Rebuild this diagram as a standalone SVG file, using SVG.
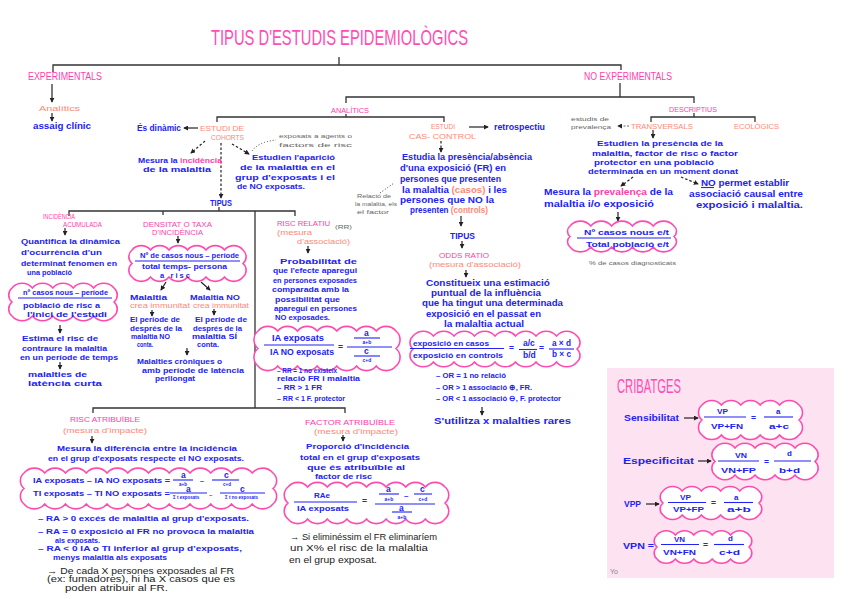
<svg xmlns="http://www.w3.org/2000/svg" width="848" height="599" viewBox="0 0 848 599">
<style>
text{font-family:"Liberation Sans",Arial,sans-serif;}
.b{fill:#2222f8;font-size:8.5px;font-weight:bold;}
.b8{fill:#2222f8;font-size:8px;font-weight:bold;}
.b7{fill:#2222f8;font-size:7.5px;font-weight:bold;}
.b6{fill:#2222f8;font-size:7px;font-weight:bold;}
.bf{fill:#2222f8;font-size:8px;font-weight:bold;}
.p{fill:#ff3ea9;font-size:7.5px;}
.s{fill:#ff8878;font-size:8px;}
.k{fill:#222;font-size:9px;}
.g{fill:#666;font-size:6px;}
.ln{stroke:#333;stroke-width:1.3;fill:none;}
.ar{stroke:#222;stroke-width:1.2;fill:none;marker-end:url(#ah);}
.da{stroke:#222;stroke-width:1.2;fill:none;stroke-dasharray:2.5 2;marker-end:url(#ah);}
.dt{stroke:#444;stroke-width:1;fill:none;stroke-dasharray:1 2;}
.cl{fill:#fff;stroke:#ff4bb0;stroke-width:1.6;}
.fr{stroke:#2222f8;stroke-width:1.1;}
</style>
<defs>
<marker id="ah" viewBox="0 0 6 6" refX="5" refY="3" markerWidth="5" markerHeight="5" markerUnits="userSpaceOnUse" orient="auto"><path d="M0,0 L6,3 L0,6 z" fill="#222"/></marker>
</defs>
<rect x="0" y="0" width="848" height="599" fill="#fff"/>
<rect x="607" y="368" width="227" height="210" fill="#fde3f1"/>

<g id="connectors">
<path class="ln" d="M339,57 V65 M53,72 V65 H621 V70"/>
<line class="ar" x1="52" y1="84" x2="52" y2="102"/>
<line class="ar" x1="52" y1="113" x2="52" y2="121"/>
<path class="ln" d="M620,83 V97 M346,103 V97 H694 V103"/>
<path class="ln" d="M346,114 V117 M217,122 V117 H444 V122"/>
<path class="ln" d="M694,113 V117 M651,122 V117 H755 V122"/>
<line class="ar" x1="198" y1="128" x2="184" y2="128"/>
<line class="da" x1="205" y1="141" x2="191" y2="153"/>
<line class="da" x1="232" y1="144" x2="249" y2="154"/>
<path class="dt" d="M252,151 Q258,142 276,140"/>
<line class="da" x1="221" y1="143" x2="221" y2="198"/>
<path class="ln" d="M219,207 V211 M69,216 V211 H295 V216 M163,211 V215 M255,211 V408 M93,413 V408 H345 V413"/>
<line class="ar" x1="65" y1="228" x2="65" y2="235"/>
<line class="ar" x1="60" y1="325" x2="60" y2="333"/>
<line class="ar" x1="60" y1="362" x2="60" y2="369"/>
<line class="ar" x1="178" y1="236" x2="178" y2="243"/>
<line class="ar" x1="166" y1="282" x2="161" y2="290"/>
<line class="ar" x1="201" y1="282" x2="210" y2="290"/>
<line class="ar" x1="152" y1="310" x2="152" y2="316"/>
<line class="ar" x1="214" y1="309" x2="214" y2="315"/>
<line class="ar" x1="187" y1="348" x2="187" y2="355"/>
<line class="ar" x1="308" y1="246" x2="308" y2="253"/>
<line class="ar" x1="92" y1="436" x2="92" y2="443"/>
<line class="ar" x1="343" y1="435" x2="343" y2="441"/>
<line class="ar" x1="469" y1="127" x2="488" y2="127"/>
<line class="da" x1="441" y1="141" x2="441" y2="152"/>
<path class="dt" d="M380,193 L394,183"/>
<line class="ar" x1="461" y1="216" x2="461" y2="226"/>
<line class="ar" x1="462" y1="241" x2="462" y2="248"/>
<line class="ar" x1="466" y1="270" x2="466" y2="277"/>
<line class="ar" x1="482" y1="407" x2="482" y2="415"/>
<line x1="629" y1="126" x2="618" y2="126" stroke="#666" stroke-width="1" stroke-dasharray="2 1.5" marker-end="url(#ah)"/>
<line class="ar" x1="653" y1="130" x2="653" y2="138"/>
<line class="da" x1="681" y1="177" x2="698" y2="184"/>
<line class="da" x1="633" y1="177" x2="621" y2="186"/>
<line class="ar" x1="618" y1="212" x2="618" y2="221"/>
<line class="ar" x1="684" y1="418" x2="698" y2="418"/>
<line class="ar" x1="698" y1="461" x2="711" y2="461"/>
<line class="ar" x1="646" y1="504" x2="659" y2="504"/>
</g>

<g id="title"><text x="211" y="45" font-size="22" textLength="257" lengthAdjust="spacingAndGlyphs" fill="#ff4db5">TIPUS D'ESTUDIS EPIDEMIOLÒGICS</text></g>

<g id="experimentals">
<text x="28" y="80" font-size="10" fill="#ff3ea9" textLength="74" lengthAdjust="spacingAndGlyphs">EXPERIMENTALS</text>
<text class="s" x="39" y="111" font-size="9" textLength="41" lengthAdjust="spacingAndGlyphs">Analítics</text>
<text class="b" x="33" y="129" textLength="58" lengthAdjust="spacingAndGlyphs">assaig clínic</text>
</g>

<g id="no-experimentals">
<text x="584" y="80" font-size="10" fill="#ff3ea9" textLength="88" lengthAdjust="spacingAndGlyphs">NO EXPERIMENTALS</text>
</g>

<g id="analitics"><text class="p" x="331" y="113" textLength="38" lengthAdjust="spacingAndGlyphs">ANALÍTICS</text></g>
<g id="descriptius"><text class="p" x="669" y="112" textLength="48" lengthAdjust="spacingAndGlyphs">DESCRIPTIUS</text></g>

<g id="cohorts">
<text class="s" x="200" y="131" font-size="7.5" textLength="44" lengthAdjust="spacingAndGlyphs">ESTUDI DE</text>
<text class="s" x="211" y="139.5" font-size="7.5" textLength="33" lengthAdjust="spacingAndGlyphs">COHORTS</text>
<text class="b" x="137" y="131" textLength="44" lengthAdjust="spacingAndGlyphs">És dinàmic</text>
<text class="b7" x="138" y="163" textLength="84" lengthAdjust="spacingAndGlyphs">Mesura la <tspan fill="#ff3ea9">incidència</tspan></text>
<text class="b7" x="143" y="171.5" textLength="68" lengthAdjust="spacingAndGlyphs">de la malaltia</text>
<text class="b8" x="252" y="160" textLength="83" lengthAdjust="spacingAndGlyphs">Estudien l'aparició</text>
<text class="b8" x="240" y="170" textLength="95" lengthAdjust="spacingAndGlyphs">de la malaltia en el</text>
<text class="b8" x="235" y="180" textLength="100" lengthAdjust="spacingAndGlyphs">grup d'exposats i el</text>
<text class="b8" x="237" y="189" textLength="68" lengthAdjust="spacingAndGlyphs">de NO exposats.</text>
<text class="g" x="279" y="137.5" textLength="73" lengthAdjust="spacingAndGlyphs">exposats a agents o</text>
<text class="g" x="279" y="146.5" textLength="73" lengthAdjust="spacingAndGlyphs">factors de risc</text>
<text class="b" x="210" y="206" textLength="22" lengthAdjust="spacingAndGlyphs">TIPUS</text>
</g>

<g id="incidencia-acumulada">
<text class="p" x="43" y="219" font-size="7" textLength="32" lengthAdjust="spacingAndGlyphs">INCIDÈNCIA</text>
<text class="p" x="63" y="227" font-size="7" textLength="39" lengthAdjust="spacingAndGlyphs">ACUMULADA</text>
<text class="b8" x="21" y="244" textLength="99" lengthAdjust="spacingAndGlyphs">Quantifica la dinàmica</text>
<text class="b8" x="21" y="255" textLength="81" lengthAdjust="spacingAndGlyphs">d'ocurrència d'un</text>
<text class="b8" x="21" y="266" textLength="96" lengthAdjust="spacingAndGlyphs">determinat fenomen en</text>
<text class="b8" x="27" y="275" textLength="45" lengthAdjust="spacingAndGlyphs">una població</text>
<path class="cl" d="M12,288 a13.3,13.3 0 0 1 20.4,0 13.3,13.3 0 0 1 20.4,0 13.3,13.3 0 0 1 20.4,0 13.3,13.3 0 0 1 20.4,0 13.3,13.3 0 0 1 20.4,0 a9.1,9.1 0 0 1 0,14 9.1,9.1 0 0 1 0,14 a13.3,13.3 0 0 1 -20.4,0 13.3,13.3 0 0 1 -20.4,0 13.3,13.3 0 0 1 -20.4,0 13.3,13.3 0 0 1 -20.4,0 13.3,13.3 0 0 1 -20.4,0 a9.1,9.1 0 0 1 0,-14 9.1,9.1 0 0 1 0,-14z"/>
<text class="bf" x="23" y="294.5" textLength="85" lengthAdjust="spacingAndGlyphs">nº casos nous – període</text>
<line class="fr" x1="18" y1="298" x2="112" y2="298"/>
<text class="b7" x="23" y="308" textLength="77" lengthAdjust="spacingAndGlyphs">població de risc a</text>
<text class="b7" x="27" y="316.5" textLength="80" lengthAdjust="spacingAndGlyphs">l'inici de l'estudi</text>
<text class="b8" x="22" y="341" textLength="76" lengthAdjust="spacingAndGlyphs">Estima el risc de</text>
<text class="b8" x="22" y="351" textLength="85" lengthAdjust="spacingAndGlyphs">contraure la malaltia</text>
<text class="b8" x="20" y="360" textLength="98" lengthAdjust="spacingAndGlyphs">en un període de temps</text>
<text class="b8" x="28" y="377" textLength="59" lengthAdjust="spacingAndGlyphs">malalties de</text>
<text class="b8" x="28" y="386" textLength="74" lengthAdjust="spacingAndGlyphs">latència curta</text>
</g>

<g id="densitat-incidencia">
<text class="p" x="143" y="227" font-size="7" textLength="69" lengthAdjust="spacingAndGlyphs">DENSITAT O TAXA</text>
<text class="p" x="152" y="235" font-size="7" textLength="51" lengthAdjust="spacingAndGlyphs">D'INCIDÈNCIA</text>
<path class="cl" d="M132,250 a12,12 0 0 1 18.5,0 12,12 0 0 1 18.5,0 12,12 0 0 1 18.5,0 12,12 0 0 1 18.5,0 12,12 0 0 1 18.5,0 12,12 0 0 1 18.5,0 a8.8,8.8 0 0 1 0,13.5 8.8,8.8 0 0 1 0,13.5 a12,12 0 0 1 -18.5,0 12,12 0 0 1 -18.5,0 12,12 0 0 1 -18.5,0 12,12 0 0 1 -18.5,0 12,12 0 0 1 -18.5,0 12,12 0 0 1 -18.5,0 a8.8,8.8 0 0 1 0,-13.5 8.8,8.8 0 0 1 0,-13.5z"/>
<text class="bf" x="140" y="257.5" textLength="99" lengthAdjust="spacingAndGlyphs">Nº de casos nous – període</text>
<line class="fr" x1="135" y1="261" x2="240" y2="261"/>
<text class="b7" x="142" y="269" textLength="85" lengthAdjust="spacingAndGlyphs">total temps- persona</text>
<text class="b7" x="160" y="277.5" textLength="30" lengthAdjust="spacing">a risc</text>
<text class="b7" x="130" y="300" textLength="37" lengthAdjust="spacingAndGlyphs">Malaltia</text>
<text class="s" x="130" y="308" font-size="7" textLength="60" lengthAdjust="spacingAndGlyphs">crea immunitat</text>
<text class="b7" x="190" y="300" textLength="50" lengthAdjust="spacingAndGlyphs">Malaltia NO</text>
<text class="s" x="193" y="308" font-size="7" textLength="56" lengthAdjust="spacingAndGlyphs">crea immunitat</text>
<text class="b6" x="130" y="322" textLength="50" lengthAdjust="spacingAndGlyphs">El període de</text>
<text class="b6" x="130" y="330.5" textLength="52" lengthAdjust="spacingAndGlyphs">després de la</text>
<text class="b6" x="131" y="339" textLength="39" lengthAdjust="spacingAndGlyphs">malaltia NO</text>
<text class="b6" x="137" y="347" textLength="16" lengthAdjust="spacingAndGlyphs">conta.</text>
<text class="b6" x="195" y="322" textLength="52" lengthAdjust="spacingAndGlyphs">El període de</text>
<text class="b6" x="193" y="330.5" textLength="49" lengthAdjust="spacingAndGlyphs">després de la</text>
<text class="b6" x="192" y="339" textLength="45" lengthAdjust="spacingAndGlyphs">malaltia SÍ</text>
<text class="b6" x="197" y="347" textLength="22" lengthAdjust="spacingAndGlyphs">conta.</text>
<text class="b7" x="137" y="364" textLength="85" lengthAdjust="spacingAndGlyphs">Malalties cròniques o</text>
<text class="b7" x="142" y="372.5" textLength="102" lengthAdjust="spacingAndGlyphs">amb període de latència</text>
<text class="b7" x="155" y="381" textLength="40" lengthAdjust="spacingAndGlyphs">perllongat</text>
</g>

<g id="risc-relatiu">
<text class="p" x="277" y="226" textLength="53" lengthAdjust="spacingAndGlyphs">RISC RELATIU</text>
<text class="g" x="335" y="229" textLength="17" lengthAdjust="spacingAndGlyphs">(RR)</text>
<text class="s" x="277" y="235" font-size="7.5" textLength="35" lengthAdjust="spacingAndGlyphs">(mesura</text>
<text class="s" x="297" y="243.5" font-size="7.5" textLength="53" lengthAdjust="spacingAndGlyphs">d'associació)</text>
<text class="b8" x="280" y="264" textLength="77" lengthAdjust="spacingAndGlyphs">Probabilitat de</text>
<text class="b8" x="273" y="273" textLength="84" lengthAdjust="spacingAndGlyphs">que l'efecte aparegui</text>
<text class="b8" x="273" y="283" textLength="84" lengthAdjust="spacingAndGlyphs">en persones exposades</text>
<text class="b8" x="272" y="292" textLength="77" lengthAdjust="spacingAndGlyphs">comparada amb la</text>
<text class="b8" x="275" y="302" textLength="65" lengthAdjust="spacingAndGlyphs">possibilitat que</text>
<text class="b8" x="274" y="311" textLength="83" lengthAdjust="spacingAndGlyphs">aparegui en persones</text>
<text class="b8" x="275" y="320" textLength="55" lengthAdjust="spacingAndGlyphs">NO exposades.</text>
<path class="cl" d="M258,331 a12.8,12.8 0 0 1 19.71,0 12.8,12.8 0 0 1 19.71,0 12.8,12.8 0 0 1 19.71,0 12.8,12.8 0 0 1 19.71,0 12.8,12.8 0 0 1 19.71,0 12.8,12.8 0 0 1 19.71,0 12.8,12.8 0 0 1 19.71,0 a11.4,11.4 0 0 1 0,17.5 11.4,11.4 0 0 1 0,17.5 a12.8,12.8 0 0 1 -19.71,0 12.8,12.8 0 0 1 -19.71,0 12.8,12.8 0 0 1 -19.71,0 12.8,12.8 0 0 1 -19.71,0 12.8,12.8 0 0 1 -19.71,0 12.8,12.8 0 0 1 -19.71,0 12.8,12.8 0 0 1 -19.71,0 a11.4,11.4 0 0 1 0,-17.5 11.4,11.4 0 0 1 0,-17.5z"/>
<text class="b" x="272" y="341" textLength="52" lengthAdjust="spacingAndGlyphs">IA exposats</text>
<line class="fr" x1="264" y1="345" x2="334" y2="345"/>
<text class="b" x="270" y="355" textLength="64" lengthAdjust="spacingAndGlyphs">IA NO exposats</text>
<text class="b" x="338" y="350" font-size="9">=</text>
<line class="fr" x1="354" y1="338" x2="380" y2="338"/>
<line class="fr" x1="347" y1="347" x2="392" y2="347"/>
<line class="fr" x1="354" y1="356" x2="380" y2="356"/>
<text class="b" font-size="6"><tspan x="364" y="336">a</tspan><tspan x="362.6" y="343.5" font-size="5">a+b</tspan><tspan x="364" y="353.5">c</tspan><tspan x="362.6" y="361.5" font-size="5">c+d</tspan></text>
<text class="bf" x="277" y="373" font-size="7" textLength="60" lengthAdjust="spacingAndGlyphs">– RR = 1 no existeix</text>
<text class="bf" x="277" y="381" font-size="7" textLength="83" lengthAdjust="spacingAndGlyphs">relació FR i malaltia</text>
<text class="bf" x="277" y="389.5" font-size="7" textLength="45" lengthAdjust="spacingAndGlyphs">– RR &gt; 1 FR</text>
<text class="bf" x="277" y="401" font-size="7" textLength="68" lengthAdjust="spacingAndGlyphs">– RR &lt; 1 F. protector</text>
</g>

<g id="risc-atribuible">
<text class="p" x="70" y="422" font-size="8" textLength="70" lengthAdjust="spacingAndGlyphs">RISC ATRIBUÏBLE</text>
<text class="s" x="63" y="432.5" textLength="84" lengthAdjust="spacingAndGlyphs">(mesura d'impacte)</text>
<text class="b8" x="57" y="451" textLength="180" lengthAdjust="spacingAndGlyphs">Mesura la diferència entre la incidència</text>
<text class="b8" x="48" y="460.5" textLength="196" lengthAdjust="spacingAndGlyphs">en el grup d'exposats respecte el NO exposats.</text>
<path class="cl" d="M24,473 a13.5,13.5 0 0 1 20.75,0 13.5,13.5 0 0 1 20.75,0 13.5,13.5 0 0 1 20.75,0 13.5,13.5 0 0 1 20.75,0 13.5,13.5 0 0 1 20.75,0 13.5,13.5 0 0 1 20.75,0 13.5,13.5 0 0 1 20.75,0 13.5,13.5 0 0 1 20.75,0 13.5,13.5 0 0 1 20.75,0 13.5,13.5 0 0 1 20.75,0 13.5,13.5 0 0 1 20.75,0 13.5,13.5 0 0 1 20.75,0 a10.1,10.1 0 0 1 0,15.5 10.1,10.1 0 0 1 0,15.5 a13.5,13.5 0 0 1 -20.75,0 13.5,13.5 0 0 1 -20.75,0 13.5,13.5 0 0 1 -20.75,0 13.5,13.5 0 0 1 -20.75,0 13.5,13.5 0 0 1 -20.75,0 13.5,13.5 0 0 1 -20.75,0 13.5,13.5 0 0 1 -20.75,0 13.5,13.5 0 0 1 -20.75,0 13.5,13.5 0 0 1 -20.75,0 13.5,13.5 0 0 1 -20.75,0 13.5,13.5 0 0 1 -20.75,0 13.5,13.5 0 0 1 -20.75,0 a10.1,10.1 0 0 1 0,-15.5 10.1,10.1 0 0 1 0,-15.5z"/>
<text class="bf" x="33" y="483" textLength="137" lengthAdjust="spacingAndGlyphs">IA exposats – IA NO exposats =</text>
<text class="bf" x="33" y="495.5" textLength="137" lengthAdjust="spacingAndGlyphs">TI exposats – TI NO exposats =</text>
<line class="fr" x1="173" y1="480" x2="193" y2="480"/>
<line class="fr" x1="212" y1="480" x2="239" y2="480"/>
<line class="fr" x1="170" y1="493" x2="207" y2="493"/>
<line class="fr" x1="220" y1="493" x2="265" y2="493"/>
<text class="b" font-size="5"><tspan x="181" y="478">a</tspan><tspan x="179" y="485.5" font-size="4.5">a+b</tspan><tspan x="200" y="483" font-size="7">–</tspan><tspan x="224" y="478">c</tspan><tspan x="223" y="485.5" font-size="4.5">c+d</tspan><tspan x="186" y="491.5">a</tspan><tspan x="173" y="499" font-size="4.5">Σ t exposats</tspan><tspan x="209" y="497" font-size="6">–</tspan><tspan x="240" y="491.5">c</tspan><tspan x="225" y="499" font-size="4.5">Σ t no exposats</tspan></text>
<text class="b7" x="38" y="521" textLength="211" lengthAdjust="spacingAndGlyphs">– RA &gt; 0 excés de malaltia al grup d'exposats.</text>
<text class="b7" x="38" y="533.5" textLength="216" lengthAdjust="spacingAndGlyphs">– RA = 0 exposició al FR no provoca la malaltia</text>
<text class="b7" x="55" y="542.5" textLength="45" lengthAdjust="spacingAndGlyphs">als exposats.</text>
<text class="b7" x="38" y="551" textLength="204" lengthAdjust="spacingAndGlyphs">– RA &lt; 0 IA o TI inferior al grup d'exposats,</text>
<text class="b7" x="53" y="559.5" textLength="114" lengthAdjust="spacingAndGlyphs">menys malaltia als exposats</text>
<text class="k" x="47" y="573.5" font-size="7.5" textLength="187" lengthAdjust="spacingAndGlyphs">→ De cada X persones exposades al FR</text>
<text class="k" x="47" y="582" font-size="7.5" textLength="188" lengthAdjust="spacingAndGlyphs">(ex: fumadores), hi ha X casos que es</text>
<text class="k" x="65" y="590.5" font-size="7.5" textLength="103" lengthAdjust="spacingAndGlyphs">poden atribuir al FR.</text>
</g>

<g id="factor-atribuible">
<text class="p" x="305" y="425" font-size="8" textLength="90" lengthAdjust="spacingAndGlyphs">FACTOR ATRIBUÏBLE</text>
<text class="s" x="314" y="434" textLength="84" lengthAdjust="spacingAndGlyphs">(mesura d'impacte)</text>
<text class="b8" x="306" y="449" textLength="103" lengthAdjust="spacingAndGlyphs">Proporció d'incidència</text>
<text class="b8" x="300" y="460" textLength="120" lengthAdjust="spacingAndGlyphs">total en el grup d'exposats</text>
<text class="b8" x="307" y="470" textLength="98" lengthAdjust="spacingAndGlyphs">que és atribuïble al</text>
<text class="b8" x="315" y="479" textLength="57" lengthAdjust="spacingAndGlyphs">factor de risc</text>
<path class="cl" d="M288,487 a12.8,12.8 0 0 1 19.625,0 12.8,12.8 0 0 1 19.625,0 12.8,12.8 0 0 1 19.625,0 12.8,12.8 0 0 1 19.625,0 12.8,12.8 0 0 1 19.625,0 12.8,12.8 0 0 1 19.625,0 12.8,12.8 0 0 1 19.625,0 12.8,12.8 0 0 1 19.625,0 a10.4,10.4 0 0 1 0,16 10.4,10.4 0 0 1 0,16 a12.8,12.8 0 0 1 -19.625,0 12.8,12.8 0 0 1 -19.625,0 12.8,12.8 0 0 1 -19.625,0 12.8,12.8 0 0 1 -19.625,0 12.8,12.8 0 0 1 -19.625,0 12.8,12.8 0 0 1 -19.625,0 12.8,12.8 0 0 1 -19.625,0 12.8,12.8 0 0 1 -19.625,0 a10.4,10.4 0 0 1 0,-16 10.4,10.4 0 0 1 0,-16z"/>
<text class="bf" x="314" y="498" textLength="16" lengthAdjust="spacingAndGlyphs">RAe</text>
<line class="fr" x1="294" y1="502" x2="357" y2="502"/>
<text class="bf" x="297" y="511" textLength="52" lengthAdjust="spacingAndGlyphs">IA exposats</text>
<text class="b" x="362" y="503.5" font-size="9">=</text>
<line class="fr" x1="379" y1="494" x2="399" y2="494"/>
<line class="fr" x1="414" y1="494" x2="432" y2="494"/>
<line class="fr" x1="375" y1="504" x2="435" y2="504"/>
<line class="fr" x1="392" y1="512" x2="412" y2="512"/>
<text class="b" font-size="6"><tspan x="386" y="492">a</tspan><tspan x="384.6" y="501" font-size="5">a+b</tspan><tspan x="404" y="498" font-size="8">–</tspan><tspan x="420" y="492">c</tspan><tspan x="418.6" y="501" font-size="5">c+d</tspan><tspan x="399" y="510.5">a</tspan><tspan x="397.6" y="519" font-size="5">a+b</tspan></text>
<text class="k" x="290" y="539.5" textLength="147" lengthAdjust="spacingAndGlyphs">→ Si eliminéssim el FR eliminaríem</text>
<text class="k" x="290" y="551" textLength="138" lengthAdjust="spacingAndGlyphs">un X% el risc de la malaltia</text>
<text class="k" x="289" y="563" textLength="88" lengthAdjust="spacingAndGlyphs">en el grup exposat.</text>
</g>

<g id="cas-control">
<text class="s" x="431" y="129" font-size="7.5" textLength="24" lengthAdjust="spacingAndGlyphs">ESTUDI</text>
<text class="s" x="409" y="138.5" font-size="7.5" textLength="67" lengthAdjust="spacingAndGlyphs">CAS- CONTROL</text>
<text class="b" x="494" y="130" textLength="51" lengthAdjust="spacingAndGlyphs">retrospectiu</text>
<text class="b" x="402" y="160" textLength="130" lengthAdjust="spacingAndGlyphs">Estudia la presència/absència</text>
<text class="b" x="400" y="171" textLength="106" lengthAdjust="spacingAndGlyphs">d'una exposició (FR) en</text>
<text class="b" x="400" y="182" textLength="101" lengthAdjust="spacingAndGlyphs">persones que presenten</text>
<text class="b" x="402" y="192.5" textLength="105" lengthAdjust="spacingAndGlyphs">la malaltia <tspan fill="#ff8878">(casos)</tspan> i les</text>
<text class="b" x="400" y="202.5" textLength="94" lengthAdjust="spacingAndGlyphs">persones que NO la</text>
<text class="b" x="410" y="212.5" textLength="78" lengthAdjust="spacingAndGlyphs">presenten <tspan fill="#ff8878">(controls)</tspan></text>
<text class="g" x="357" y="198" textLength="34" lengthAdjust="spacingAndGlyphs">Relació de</text>
<text class="g" x="355" y="206" textLength="42" lengthAdjust="spacingAndGlyphs">la malaltia, els</text>
<text class="g" x="357" y="214" textLength="32" lengthAdjust="spacingAndGlyphs">el factor</text>
<text class="b" x="450" y="238.5" font-size="10.5" textLength="25" lengthAdjust="spacingAndGlyphs">TIPUS</text>
</g>

<g id="odds-ratio">
<text class="p" x="439" y="258" font-size="8" textLength="50" lengthAdjust="spacingAndGlyphs">ODDS RATIO</text>
<text class="s" x="429" y="267" textLength="92" lengthAdjust="spacingAndGlyphs">(mesura d'associació)</text>
<text class="b" x="426" y="286" textLength="124" lengthAdjust="spacingAndGlyphs">Constitueix una estimació</text>
<text class="b" x="431" y="296" textLength="110" lengthAdjust="spacingAndGlyphs">puntual de la influència</text>
<text class="b" x="422" y="306" textLength="141" lengthAdjust="spacingAndGlyphs">que ha tingut una determinada</text>
<text class="b" x="426" y="316.5" textLength="115" lengthAdjust="spacingAndGlyphs">exposició en el passat en</text>
<text class="b" x="444" y="326.5" textLength="80" lengthAdjust="spacingAndGlyphs">la malaltia actual</text>
<path class="cl" d="M413,336 a13.3,13.3 0 0 1 20.5,0 13.3,13.3 0 0 1 20.5,0 13.3,13.3 0 0 1 20.5,0 13.3,13.3 0 0 1 20.5,0 13.3,13.3 0 0 1 20.5,0 13.3,13.3 0 0 1 20.5,0 13.3,13.3 0 0 1 20.5,0 13.3,13.3 0 0 1 20.5,0 a8.5,8.5 0 0 1 0,13 8.5,8.5 0 0 1 0,13 a13.3,13.3 0 0 1 -20.5,0 13.3,13.3 0 0 1 -20.5,0 13.3,13.3 0 0 1 -20.5,0 13.3,13.3 0 0 1 -20.5,0 13.3,13.3 0 0 1 -20.5,0 13.3,13.3 0 0 1 -20.5,0 13.3,13.3 0 0 1 -20.5,0 13.3,13.3 0 0 1 -20.5,0 a8.5,8.5 0 0 1 0,-13 8.5,8.5 0 0 1 0,-13z"/>
<text class="bf" x="413" y="345.5" font-size="7" textLength="76" lengthAdjust="spacingAndGlyphs">exposició en casos</text>
<line class="fr" x1="410" y1="348.5" x2="504" y2="348.5"/>
<text class="bf" x="413" y="357.5" font-size="7" textLength="90" lengthAdjust="spacingAndGlyphs">exposició en controls</text>
<text class="b" x="509" y="351" font-size="9">=</text>
<text class="b" x="523" y="346" font-size="6.5">a/c</text>
<line class="fr" x1="519" y1="349.5" x2="537" y2="349.5"/>
<text class="b" x="523" y="357.5" font-size="6.5">b/d</text>
<text class="b" x="539" y="351" font-size="9">=</text>
<text class="b" x="552" y="346" font-size="6.5" textLength="19" lengthAdjust="spacingAndGlyphs">a × d</text>
<line class="fr" x1="549" y1="349" x2="574" y2="349"/>
<text class="b" x="552" y="357" font-size="6.5" textLength="19" lengthAdjust="spacingAndGlyphs">b × c</text>
<text class="bf" x="436" y="378" font-size="7" textLength="70" lengthAdjust="spacingAndGlyphs">– OR = 1 no relació</text>
<text class="bf" x="436" y="389.5" font-size="7" textLength="96" lengthAdjust="spacingAndGlyphs">– OR &gt; 1 associació ⊕, FR.</text>
<text class="bf" x="436" y="401" font-size="7" textLength="125" lengthAdjust="spacingAndGlyphs">– OR &lt; 1 associació ⊖, F. protector</text>
<text class="b" x="434" y="424" textLength="137" lengthAdjust="spacingAndGlyphs">S'utilitza x malalties rares</text>
</g>

<g id="transversals">
<text class="g" x="571" y="121" textLength="38" lengthAdjust="spacingAndGlyphs">estudis de</text>
<text class="g" x="571" y="129" textLength="40" lengthAdjust="spacingAndGlyphs">prevalença</text>
<text class="s" x="631" y="129" font-size="7.5" textLength="62" lengthAdjust="spacingAndGlyphs">TRANSVERSALS</text>
<text class="b8" x="597" y="146" textLength="126" lengthAdjust="spacingAndGlyphs">Estudien la presència de la</text>
<text class="b8" x="592" y="155.5" textLength="146" lengthAdjust="spacingAndGlyphs">malaltia, factor de risc o factor</text>
<text class="b8" x="594" y="164.5" textLength="120" lengthAdjust="spacingAndGlyphs">protector en una població</text>
<text class="b8" x="588" y="174" textLength="150" lengthAdjust="spacingAndGlyphs">determinada en un moment donat</text>
<text class="b" x="701" y="185.5" textLength="88" lengthAdjust="spacingAndGlyphs">NO permet establir</text>
<line class="fr" x1="701" y1="187.5" x2="714" y2="187.5"/>
<text class="b" x="689" y="196.5" textLength="114" lengthAdjust="spacingAndGlyphs">associació causal entre</text>
<text class="b" x="696" y="208" textLength="107" lengthAdjust="spacingAndGlyphs">exposició i malaltia.</text>
<text class="b" x="544" y="195" textLength="129" lengthAdjust="spacingAndGlyphs">Mesura la <tspan fill="#ff3ea9">prevalença</tspan> de la</text>
<text class="b" x="544" y="207" textLength="110" lengthAdjust="spacingAndGlyphs">malaltia i/o exposició</text>
<path class="cl" d="M570,226 a13.5,13.5 0 0 1 20.8,0 13.5,13.5 0 0 1 20.8,0 13.5,13.5 0 0 1 20.8,0 13.5,13.5 0 0 1 20.8,0 13.5,13.5 0 0 1 20.8,0 a6.8,6.8 0 0 1 0,10.5 6.8,6.8 0 0 1 0,10.5 a13.5,13.5 0 0 1 -20.8,0 13.5,13.5 0 0 1 -20.8,0 13.5,13.5 0 0 1 -20.8,0 13.5,13.5 0 0 1 -20.8,0 13.5,13.5 0 0 1 -20.8,0 a6.8,6.8 0 0 1 0,-10.5 6.8,6.8 0 0 1 0,-10.5z"/>
<text class="bf" x="584" y="234.5" textLength="85" lengthAdjust="spacingAndGlyphs">Nº casos nous e/t</text>
<line class="fr" x1="577" y1="238" x2="671" y2="238"/>
<text class="bf" x="586" y="246.5" textLength="83" lengthAdjust="spacingAndGlyphs">Total població e/t</text>
<text class="g" x="589" y="265" textLength="87" lengthAdjust="spacingAndGlyphs">% de casos diagnosticats</text>
</g>

<g id="ecologics"><text class="s" x="734" y="128.5" font-size="7.5" textLength="45" lengthAdjust="spacingAndGlyphs">ECOLÒGICS</text></g>

<g id="cribatges">
<text x="617" y="393" font-size="21" fill="#ff4db5" textLength="64" lengthAdjust="spacingAndGlyphs">CRIBATGES</text>
<text class="b" x="624" y="421" font-size="10" textLength="55" lengthAdjust="spacingAndGlyphs">Sensibilitat</text>
<path class="cl" d="M702,405 a12.6,12.6 0 0 1 19.4,0 12.6,12.6 0 0 1 19.4,0 12.6,12.6 0 0 1 19.4,0 12.6,12.6 0 0 1 19.4,0 12.6,12.6 0 0 1 19.4,0 a9.8,9.8 0 0 1 0,15 9.8,9.8 0 0 1 0,15 a12.6,12.6 0 0 1 -19.4,0 12.6,12.6 0 0 1 -19.4,0 12.6,12.6 0 0 1 -19.4,0 12.6,12.6 0 0 1 -19.4,0 12.6,12.6 0 0 1 -19.4,0 a9.8,9.8 0 0 1 0,-15 9.8,9.8 0 0 1 0,-15z"/>
<text class="bf" x="717" y="413.5" textLength="11" lengthAdjust="spacingAndGlyphs">VP</text>
<line class="fr" x1="704" y1="417" x2="746" y2="417"/>
<text class="bf" x="711" y="429" textLength="32" lengthAdjust="spacingAndGlyphs">VP+FN</text>
<text class="b" x="751" y="420.5" font-size="9">=</text>
<text class="bf" x="776" y="414">a</text>
<line class="fr" x1="764" y1="417" x2="793" y2="417"/>
<text class="bf" x="769" y="429" textLength="20" lengthAdjust="spacingAndGlyphs">a+c</text>

<text class="b" x="623" y="464" font-size="10" textLength="71" lengthAdjust="spacingAndGlyphs">Especificitat</text>
<path class="cl" d="M715,448 a13,13 0 0 1 20,0 13,13 0 0 1 20,0 13,13 0 0 1 20,0 13,13 0 0 1 20,0 13,13 0 0 1 20,0 a8.8,8.8 0 0 1 0,13.5 8.8,8.8 0 0 1 0,13.5 a13,13 0 0 1 -20,0 13,13 0 0 1 -20,0 13,13 0 0 1 -20,0 13,13 0 0 1 -20,0 13,13 0 0 1 -20,0 a8.8,8.8 0 0 1 0,-13.5 8.8,8.8 0 0 1 0,-13.5z"/>
<text class="bf" x="735" y="457.5" textLength="12" lengthAdjust="spacingAndGlyphs">VN</text>
<line class="fr" x1="718" y1="461" x2="759" y2="461"/>
<text class="bf" x="721" y="472.5" textLength="35" lengthAdjust="spacingAndGlyphs">VN+FP</text>
<text class="b" x="764" y="464.5" font-size="9">=</text>
<text class="bf" x="787" y="456">d</text>
<line class="fr" x1="774" y1="461" x2="811" y2="461"/>
<text class="bf" x="779" y="472.5" textLength="21" lengthAdjust="spacingAndGlyphs">b+d</text>

<text class="b" x="624" y="507" font-size="10" textLength="17" lengthAdjust="spacingAndGlyphs">VPP</text>
<path class="cl" d="M663,491 a12.5,12.5 0 0 1 19.2,0 12.5,12.5 0 0 1 19.2,0 12.5,12.5 0 0 1 19.2,0 12.5,12.5 0 0 1 19.2,0 12.5,12.5 0 0 1 19.2,0 a7.8,7.8 0 0 1 0,12 7.8,7.8 0 0 1 0,12 a12.5,12.5 0 0 1 -19.2,0 12.5,12.5 0 0 1 -19.2,0 12.5,12.5 0 0 1 -19.2,0 12.5,12.5 0 0 1 -19.2,0 12.5,12.5 0 0 1 -19.2,0 a7.8,7.8 0 0 1 0,-12 7.8,7.8 0 0 1 0,-12z"/>
<text class="bf" x="680" y="499.5" font-size="7" textLength="11" lengthAdjust="spacingAndGlyphs">VP</text>
<line class="fr" x1="668" y1="502.5" x2="706" y2="502.5"/>
<text class="bf" x="673" y="511.5" font-size="7" textLength="31" lengthAdjust="spacingAndGlyphs">VP+FP</text>
<text class="b" x="711" y="506" font-size="8">=</text>
<text class="bf" x="734" y="499.5" font-size="7">a</text>
<line class="fr" x1="724" y1="502.5" x2="753" y2="502.5"/>
<text class="bf" x="727" y="511.5" font-size="7" textLength="24" lengthAdjust="spacingAndGlyphs">a+b</text>

<text class="b" x="623" y="549" font-size="10" textLength="31" lengthAdjust="spacingAndGlyphs">VPN =</text>
<path class="cl" d="M657,535 a12,12 0 0 1 18.4,0 12,12 0 0 1 18.4,0 12,12 0 0 1 18.4,0 12,12 0 0 1 18.4,0 12,12 0 0 1 18.4,0 a7.8,7.8 0 0 1 0,12 7.8,7.8 0 0 1 0,12 a12,12 0 0 1 -18.4,0 12,12 0 0 1 -18.4,0 12,12 0 0 1 -18.4,0 12,12 0 0 1 -18.4,0 12,12 0 0 1 -18.4,0 a7.8,7.8 0 0 1 0,-12 7.8,7.8 0 0 1 0,-12z"/>
<text class="bf" x="674" y="542" font-size="7" textLength="11" lengthAdjust="spacingAndGlyphs">VN</text>
<line class="fr" x1="661" y1="544.5" x2="699" y2="544.5"/>
<text class="bf" x="663" y="555" font-size="7" textLength="33" lengthAdjust="spacingAndGlyphs">VN+FN</text>
<text class="b" x="703" y="548" font-size="8">=</text>
<text class="bf" x="728" y="541" font-size="7">d</text>
<line class="fr" x1="714" y1="544.5" x2="744" y2="544.5"/>
<text class="bf" x="719" y="555" font-size="7" textLength="21" lengthAdjust="spacingAndGlyphs">c+d</text>
<text x="610" y="574" font-size="7" fill="#888">Yo</text>
</g>
</svg>
